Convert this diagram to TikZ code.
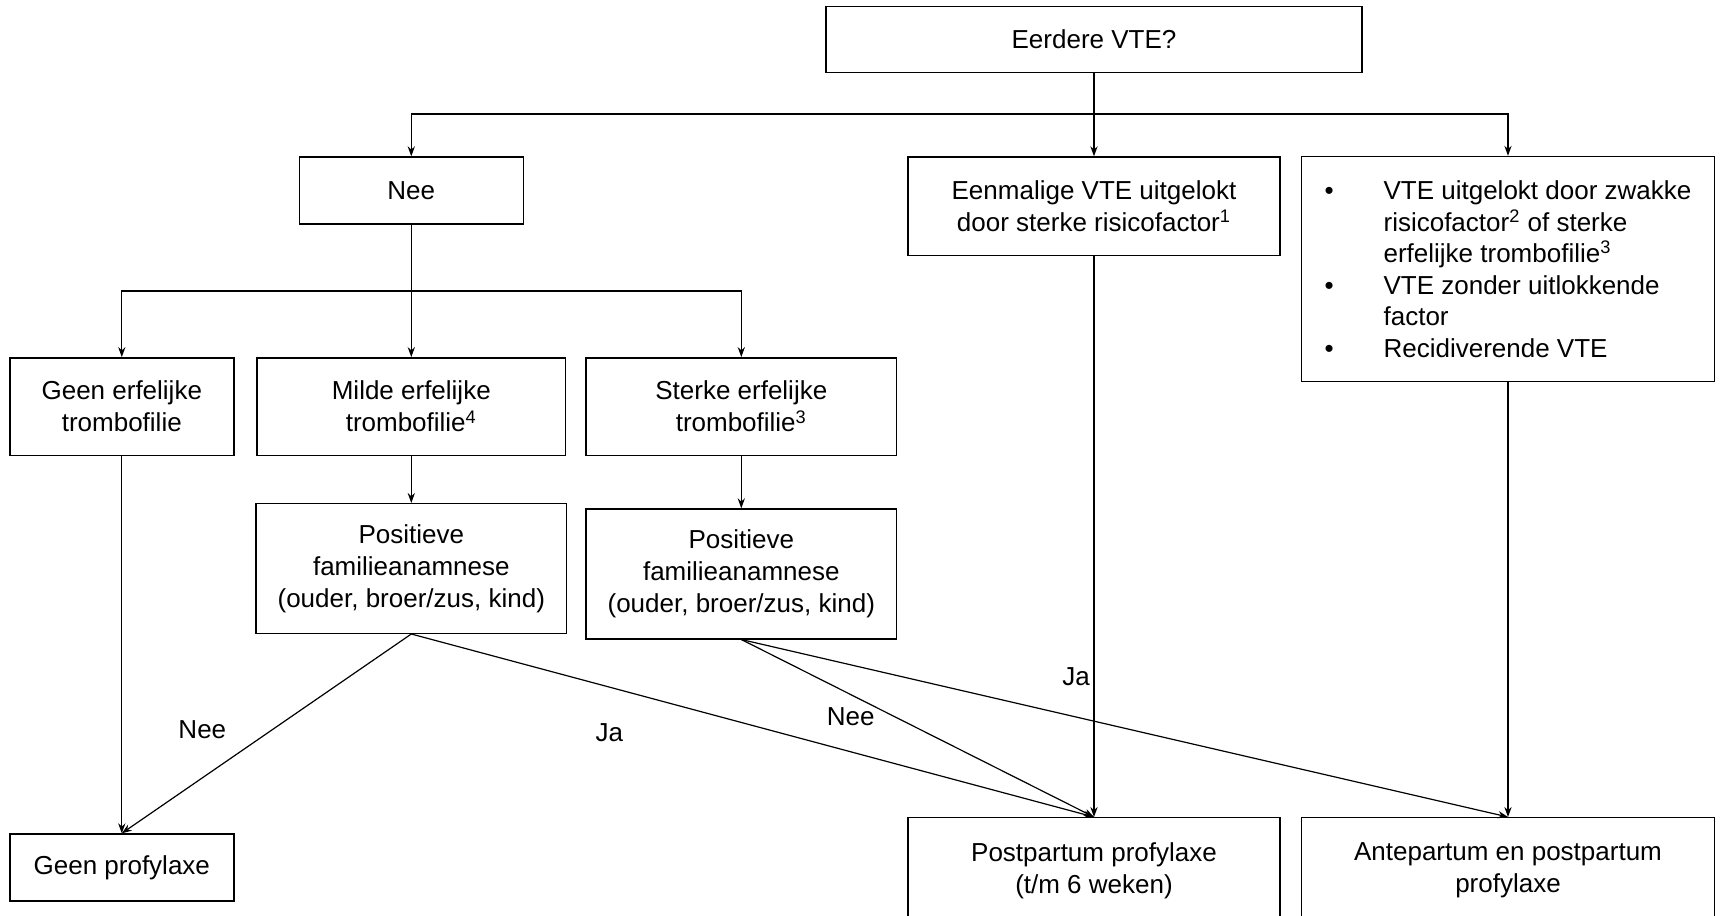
\documentclass[tikz,border=0pt]{standalone}
\usepackage{fontspec}
\setmainfont{Liberation Sans}
\usetikzlibrary{arrows.meta,positioning}
\tikzset{
    blok/.style={draw, line width=0.7pt, align=center, inner sep=2pt},
}
\newcommand{\opsom}{\makebox[29.5pt][l]{\textbullet}}
\newcommand{\inspring}{\hspace*{29.5pt}}

\begin{document}
\begin{tikzpicture}[x=0.5pt, y=-0.5pt, ->, >={Stealth[length=5pt,width=3.6pt]}, line width=0.6pt,
    every node/.style={font=\fontsize{13}{15.9}\selectfont}]
    \useasboundingbox (0,0) rectangle (1721,916);

    % Draw the question and the first split
    \node[blok, minimum width=268pt, minimum height=33pt] (vraag) at (1094,39.5) {Eerdere VTE?};
    \node[blok, minimum width=112pt, minimum height=33.5pt] (nee) at (411.3,190.5) {Nee};
    \node[blok, minimum width=186pt, minimum height=49.3pt] (eenmalig) at (1094,206.3)
        {Eenmalige VTE uitgelokt\\door sterke risicofactor\textsuperscript{1}};
    \node[blok, minimum width=206.3pt, minimum height=112.5pt, align=left,
        font=\fontsize{13}{15.75}\selectfont] (rechts) at (1508,269)
        {\opsom VTE uitgelokt door zwakke\\
         \inspring risicofactor\textsuperscript{2} of sterke\\
         \inspring erfelijke trombofilie\textsuperscript{3}\\
         \opsom VTE zonder uitlokkende\\
         \inspring factor\\
         \opsom Recidiverende VTE};

    % Draw the trombofilie boxes
    \node[blok, minimum width=112pt, minimum height=48.8pt] (geenerf) at (121.8,406.6) {Geen erfelijke\\trombofilie};
    \node[blok, minimum width=154.2pt, minimum height=48.8pt] (milde) at (411.3,406.6) {Milde erfelijke\\trombofilie\textsuperscript{4}};
    \node[blok, minimum width=155.3pt, minimum height=48.8pt] (sterke) at (741.3,406.6) {Sterke erfelijke\\trombofilie\textsuperscript{3}};

    % Draw the family history boxes
    \node[blok, minimum width=155.3pt, minimum height=64.8pt] (fam1) at (411.3,568.5)
        {Positieve\\familieanamnese\\(ouder, broer/zus, kind)};
    \node[blok, minimum width=155.3pt, minimum height=64.9pt] (fam2) at (741.3,573.9)
        {Positieve\\familieanamnese\\(ouder, broer/zus, kind)};

    % Draw the outcomes
    \node[blok, minimum width=112pt, minimum height=33.5pt] (geenprof) at (121.8,867.5) {Geen profylaxe};
    \node[blok, minimum width=186pt, minimum height=52.8pt] (postpartum) at (1094,870.5)
        {Postpartum profylaxe\\(t/m 6 weken)};
    \node[blok, minimum width=206.3pt, minimum height=52.8pt] (antepartum) at (1508,870.5)
        {Antepartum en postpartum\\profylaxe};

    % first split
    \coordinate (tak1) at (1094,114);
    \draw[-] (vraag) -- (tak1);
    \foreach \doel in {nee, eenmalig, rechts}{
        \draw (tak1) -| (\doel);
    }

    % second split
    \coordinate (tak2) at (411.3,291);
    \draw[-] (nee) -- (tak2);
    \foreach \doel in {geenerf, milde, sterke}{
        \draw (tak2) -| (\doel);
    }
    \draw (milde) -- (fam1);
    \draw (sterke) -- (fam2);

    % Draw the arrows to the outcomes
    \draw (geenerf) -- (geenprof);
    \draw (fam1.south) -- node[pos=.48, xshift=-35pt]{Nee} (geenprof.north);
    \draw (fam1.south) -- node[pos=.29, yshift=-23pt]{Ja} (postpartum.north);
    \draw (fam2.south) -- node[pos=.31, yshift=-11pt]{Nee} (postpartum.north);
    \draw (fam2.south) -- (antepartum.north);
    \draw (eenmalig) -- node[pos=.75, xshift=-9pt]{Ja} (postpartum);
    \draw (rechts) -- (antepartum);
\end{tikzpicture}
\end{document}
